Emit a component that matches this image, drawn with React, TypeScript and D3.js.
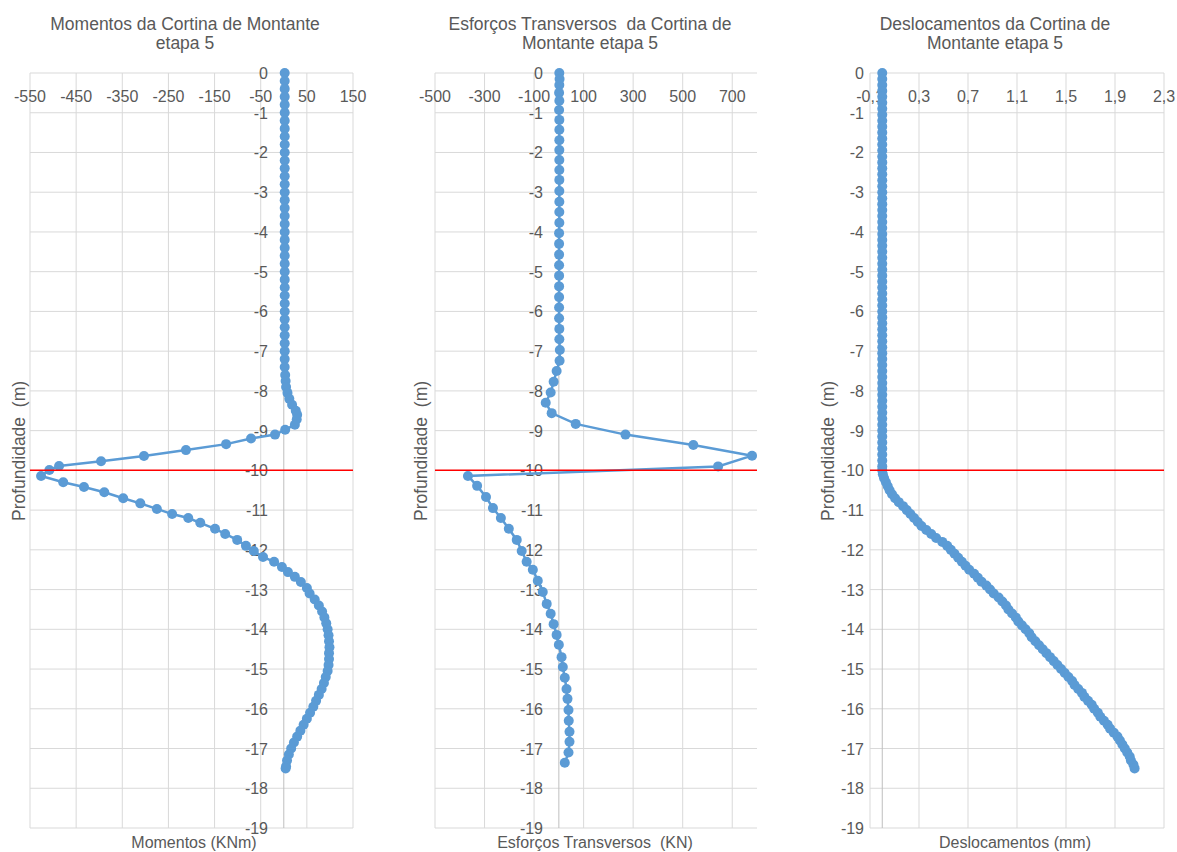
import React from 'react'
import * as d3 from 'd3'

// depth axis (m) shared by the three panels
const depthTicks = [0, -1, -2, -3, -4, -5, -6, -7, -8, -9, -10, -11, -12, -13, -14, -15, -16, -17, -18, -19]
const momentTicks = [-550, -450, -350, -250, -150, -50, 50, 150]
const shearTicks = [-500, -300, -100, 100, 300, 500, 700]
const dispTicks = [-0.1, 0.3, 0.7, 1.1, 1.5, 1.9, 2.3]
const excavationDepth = -10

// [depth (m), moment (KNm)]
const momentos: [number, number][] = [
  [0, 2], [-0.2, 2], [-0.4, 2], [-0.6, 2], [-0.8, 2], [-1, 2], [-1.2, 2], [-1.4, 2], [-1.6, 2], [-1.8, 2],
  [-2, 2], [-2.2, 2], [-2.4, 2], [-2.6, 2], [-2.8, 2], [-3, 2], [-3.2, 2], [-3.4, 2], [-3.6, 2], [-3.8, 2],
  [-4, 2], [-4.2, 2], [-4.4, 2], [-4.6, 2], [-4.8, 2], [-5, 2], [-5.2, 2], [-5.4, 2], [-5.6, 2], [-5.8, 2],
  [-6, 2], [-6.2, 2], [-6.4, 2], [-6.6, 2], [-6.8, 2], [-7, 2], [-7.2, 2], [-7.4, 2], [-7.6, 3],
  [-7.75, 4], [-7.9, 5], [-8.05, 8], [-8.2, 12], [-8.35, 18], [-8.5, 26], [-8.6, 29], [-8.72, 28], [-8.85, 24],
  [-8.98, 3], [-9.1, -19], [-9.2, -71], [-9.34, -125], [-9.49, -212], [-9.64, -303], [-9.77, -396],
  [-9.89, -487], [-9.99, -508], [-10.14, -526], [-10.3, -478], [-10.42, -433], [-10.55, -389], [-10.7, -348],
  [-10.83, -311], [-10.97, -275], [-11.1, -242], [-11.2, -207], [-11.32, -181], [-11.47, -149], [-11.6, -127],
  [-11.75, -101], [-11.9, -82], [-12.03, -65], [-12.18, -45], [-12.3, -21], [-12.43, -4], [-12.56, 9],
  [-12.68, 24], [-12.81, 37], [-12.96, 50], [-13.1, 56], [-13.25, 67], [-13.4, 76], [-13.55, 83], [-13.7, 88],
  [-13.85, 92], [-14, 95], [-14.15, 97], [-14.3, 98], [-14.45, 99], [-14.6, 98], [-14.75, 98], [-14.9, 97],
  [-15.05, 95], [-15.2, 91], [-15.35, 87], [-15.5, 82], [-15.65, 76], [-15.8, 70], [-15.95, 64], [-16.1, 57],
  [-16.25, 50], [-16.4, 43], [-16.55, 36], [-16.7, 29], [-16.85, 22], [-17, 16], [-17.15, 11], [-17.3, 7],
  [-17.45, 5], [-17.5, 4],
]

// [depth (m), shear (KN)]
const esforcos: [number, number][] = [
  [0, 2], [-0.15, 3], [-0.3, 2], [-0.5, 1], [-0.7, 2], [-0.93, 1], [-1.18, 2], [-1.43, 2], [-1.69, 2],
  [-1.94, 2], [-2.19, 2], [-2.44, 2], [-2.69, 2], [-2.97, 2], [-3.24, 2], [-3.5, 2], [-3.77, 2], [-4.03, 1],
  [-4.3, 1], [-4.57, 1], [-4.84, 1], [-5.1, 1], [-5.37, 1], [-5.64, 1], [-5.9, 1], [-6.17, 1], [-6.44, 2],
  [-6.7, 2], [-6.97, 4], [-7.24, 3], [-7.5, -9], [-7.77, -21], [-8.04, -33], [-8.3, -53], [-8.56, -29],
  [-8.83, 68], [-9.1, 269], [-9.36, 543], [-9.63, 780], [-9.9, 643], [-10.14, -367], [-10.39, -330],
  [-10.67, -294], [-10.95, -266], [-11.2, -234], [-11.47, -202], [-11.75, -170], [-12.03, -150], [-12.3, -130],
  [-12.5, -105], [-12.78, -85], [-13.06, -65], [-13.36, -49], [-13.61, -33], [-13.87, -21], [-14.14, -9],
  [-14.39, 0], [-14.7, 11], [-14.95, 16], [-15.22, 24], [-15.5, 31], [-15.75, 35], [-16.03, 39], [-16.3, 40],
  [-16.58, 43], [-16.83, 43], [-17.1, 39], [-17.36, 24],
]

// [depth (m), displacement (mm)]
const deslocamentos: [number, number][] = [
  [0, 0], [-0.15, 0], [-0.3, 0], [-0.45, 0], [-0.6, 0], [-0.75, 0], [-0.9, 0], [-1.05, 0], [-1.2, 0],
  [-1.35, 0], [-1.5, 0], [-1.65, 0], [-1.8, 0], [-1.95, 0], [-2.1, 0], [-2.25, 0], [-2.4, 0], [-2.55, 0],
  [-2.7, 0], [-2.85, 0], [-3, 0], [-3.15, 0], [-3.3, 0], [-3.45, 0], [-3.6, 0], [-3.75, 0], [-3.9, 0],
  [-4.05, 0], [-4.2, 0], [-4.35, 0], [-4.5, 0], [-4.65, 0], [-4.8, 0], [-4.95, 0], [-5.1, 0], [-5.25, 0],
  [-5.4, 0], [-5.55, 0], [-5.7, 0], [-5.85, 0], [-6, 0], [-6.15, 0], [-6.3, 0], [-6.45, 0], [-6.6, 0],
  [-6.75, 0], [-6.9, 0], [-7.05, 0], [-7.2, 0], [-7.35, 0], [-7.5, 0], [-7.65, 0], [-7.8, 0], [-7.95, 0],
  [-8.1, 0], [-8.25, 0], [-8.4, 0], [-8.55, 0], [-8.7, 0], [-8.85, 0], [-9, 0], [-9.15, 0], [-9.3, 0],
  [-9.45, 0], [-9.6, 0], [-9.75, 0], [-9.9, 0],
  [-10, 0], [-10.1, 0.005], [-10.2, 0.015], [-10.3, 0.03], [-10.4, 0.045], [-10.5, 0.06], [-10.6, 0.08],
  [-10.7, 0.105], [-10.8, 0.135], [-10.9, 0.17], [-11, 0.2], [-11.1, 0.23], [-11.2, 0.26], [-11.3, 0.29],
  [-11.4, 0.32], [-11.5, 0.36], [-11.6, 0.4], [-11.7, 0.44], [-11.8, 0.49], [-11.9, 0.53], [-12, 0.56],
  [-12.1, 0.59], [-12.2, 0.62], [-12.3, 0.65], [-12.4, 0.68], [-12.5, 0.71], [-12.6, 0.75], [-12.7, 0.78],
  [-12.8, 0.81], [-12.9, 0.85], [-13, 0.88], [-13.1, 0.91], [-13.2, 0.95], [-13.3, 0.98], [-13.4, 1.01],
  [-13.5, 1.03], [-13.6, 1.06], [-13.7, 1.09], [-13.8, 1.11], [-13.9, 1.14], [-14, 1.17], [-14.1, 1.2],
  [-14.2, 1.22], [-14.3, 1.25], [-14.4, 1.28], [-14.5, 1.31], [-14.6, 1.34], [-14.7, 1.37], [-14.8, 1.4],
  [-14.9, 1.43], [-15, 1.46], [-15.1, 1.49], [-15.2, 1.52], [-15.3, 1.55], [-15.4, 1.57], [-15.5, 1.6],
  [-15.6, 1.63], [-15.7, 1.65], [-15.8, 1.68], [-15.9, 1.71], [-16, 1.73], [-16.1, 1.76], [-16.2, 1.78],
  [-16.3, 1.81], [-16.4, 1.84], [-16.5, 1.86], [-16.6, 1.89], [-16.7, 1.92], [-16.8, 1.94], [-16.9, 1.96],
  [-17, 1.98], [-17.1, 2], [-17.2, 2.02], [-17.3, 2.03], [-17.4, 2.05], [-17.5, 2.06],
]

const TOP = 73
const BOTTOM = 828
const BLUE = '#5b9bd5'
const GRID = '#d9d9d9'
const AXIS = '#bfbfbf'
const TEXT = '#595959'
const FONT = '"Liberation Sans", Arial, sans-serif'

const panels = [
  {
    key: 'mom',
    title: ['Momentos da Cortina de Montante', 'etapa 5'],
    titleX: 185,
    xTitle: 'Momentos (KNm)',
    xTitleX: 194,
    domain: [-550, 150],
    range: [30, 353],
    ticks: momentTicks,
    fmt: (d: number) => String(d),
    yLabelX: 268,
    profX: 25,
    data: momentos,
  },
  {
    key: 'esf',
    title: ['Esforços Transversos  da Cortina de', 'Montante etapa 5'],
    titleX: 590,
    xTitle: 'Esforços Transversos  (KN)',
    xTitleX: 595,
    domain: [-500, 800],
    range: [435, 757],
    ticks: shearTicks,
    fmt: (d: number) => String(d),
    yLabelX: 543,
    profX: 427,
    data: esforcos,
  },
  {
    key: 'des',
    title: ['Deslocamentos da Cortina de', 'Montante etapa 5'],
    titleX: 995,
    xTitle: 'Deslocamentos (mm)',
    xTitleX: 1015,
    domain: [-0.1, 2.3],
    range: [870, 1164],
    ticks: dispTicks,
    fmt: (d: number) => d.toFixed(1).replace('.', ','),
    yLabelX: 864,
    profX: 834,
    data: deslocamentos,
  },
]

function Panel({ p }: { p: typeof panels[number] }) {
  const x = d3.scaleLinear().domain(p.domain).range(p.range)
  const y = d3.scaleLinear().domain([0, -19]).range([TOP, BOTTOM])
  const line = d3.line<[number, number]>().x((d) => x(d[1])).y((d) => y(d[0]))
  const [x0, x1] = p.range

  return (
    <g fontFamily={FONT} fill={TEXT}>
      {depthTicks.map((t) => (
        <line key={'h' + t} x1={x0} x2={x1} y1={y(t)} y2={y(t)} stroke={GRID} strokeWidth={1} />
      ))}
      {p.ticks.map((t) => (
        <line key={'v' + t} x1={x(t)} x2={x(t)} y1={TOP} y2={BOTTOM} stroke={GRID} strokeWidth={1} />
      ))}
      <line x1={x(0)} x2={x(0)} y1={TOP} y2={BOTTOM} stroke={AXIS} strokeWidth={1} />

      {p.ticks.map((t) => (
        <text key={'xl' + t} x={x(t)} y={102} textAnchor="middle" fontSize={16}>
          {p.fmt(t)}
        </text>
      ))}
      {depthTicks.map((t) => (
        <text key={'yl' + t} x={p.yLabelX} y={y(t) + 6} textAnchor="end" fontSize={16}>
          {String(t)}
        </text>
      ))}

      <path d={line(p.data) || ''} fill="none" stroke={BLUE} strokeWidth={2.5} />
      {p.data.map((d, i) => (
        <circle key={i} cx={x(d[1])} cy={y(d[0])} r={5} fill={BLUE} />
      ))}

      <line
        x1={x0}
        x2={x1}
        y1={y(excavationDepth)}
        y2={y(excavationDepth)}
        stroke="#ff0000"
        strokeWidth={1.5}
      />

      {p.title.map((s, i) => (
        <text
          key={'t' + i}
          x={p.titleX}
          y={30 + i * 19}
          textAnchor="middle"
          fontSize={17.5}
          style={{ whiteSpace: 'pre' }}
        >
          {s}
        </text>
      ))}
      <text x={p.xTitleX} y={848} textAnchor="middle" fontSize={16} style={{ whiteSpace: 'pre' }}>
        {p.xTitle}
      </text>
      <text
        transform={`translate(${p.profX},451) rotate(-90)`}
        textAnchor="middle"
        fontSize={17.5}
        style={{ whiteSpace: 'pre' }}
      >
        Profundidade  (m)
      </text>
    </g>
  )
}

export default function App() {
  return (
    <svg
      width={1177}
      height={852}
      style={{ position: 'absolute', left: 0, top: 0, background: '#fff' }}
    >
      <rect width={1177} height={852} fill="#fff" />
      {panels.map((p) => (
        <Panel key={p.key} p={p} />
      ))}
    </svg>
  )
}
